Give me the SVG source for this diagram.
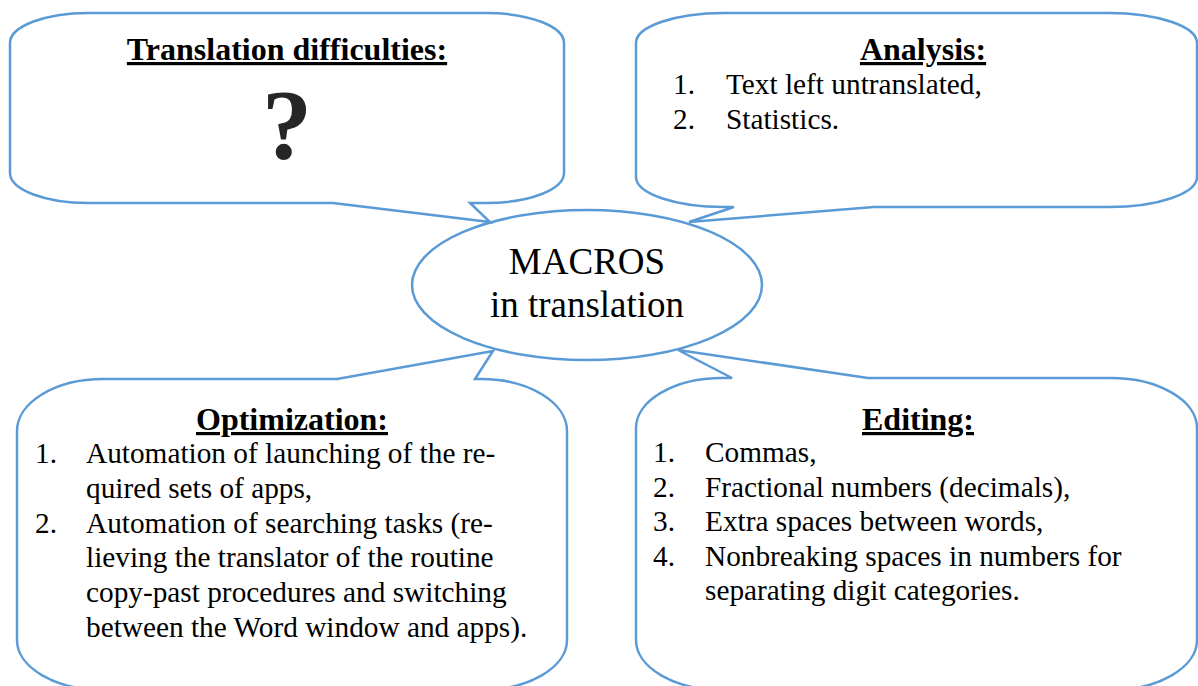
<svg xmlns="http://www.w3.org/2000/svg" width="1198" height="686" viewBox="0 0 1198 686">
<style>
.shape{fill:#fff;stroke:#5B9BD5;stroke-width:2.5;stroke-linejoin:miter}
text{font-family:"Liberation Serif","Times New Roman",serif;fill:#000}
.title{font-size:32px;font-weight:bold;text-anchor:middle;text-decoration:underline}
.item{font-size:29.3px}
.center{font-size:37px;text-anchor:middle}
</style>
<rect width="1198" height="686" fill="#fff"/>
<g id="connectors"/>
<g id="node-center">
<ellipse class="shape" cx="587" cy="285" rx="175" ry="75"/>
<text class="center" x="587" y="274">MACROS</text>
<text class="center" x="587" y="317">in translation</text>
</g>
<g id="node-difficulties">
<path class="shape" d="M88,13 H486 A78 30 0 0 1 564 43 V173 A78 30 0 0 1 486 203 H470 L490 222 L333 203 H88 A78 30 0 0 1 10 173 V43 A78 30 0 0 1 88 13 Z"/>
<text class="title" x="287" y="60">Translation difficulties:</text>
<text x="287" y="158" font-size="100" font-weight="bold" text-anchor="middle" fill="#262626" style="fill:#262626">?</text>
</g>
<g id="node-analysis">
<path class="shape" d="M724,13 H1109 A88 30 0 0 1 1197 43 V177 A88 30 0 0 1 1109 207 H874 L689 222 L734 207 H724 A88 30 0 0 1 636 177 V43 A88 30 0 0 1 724 13 Z"/>
<text class="title" x="923" y="60">Analysis:</text>
<text class="item" x="673" y="94">1.</text>
<text class="item" x="726" y="94">Text left untranslated,</text>
<text class="item" x="673" y="129">2.</text>
<text class="item" x="726" y="129">Statistics.</text>
</g>
<g id="node-optimization">
<path class="shape" d="M17,431 A86 52 0 0 1 103 379 H337 L493 351 L475 379 H481 A86 52 0 0 1 567 431 V640 A86 50 0 0 1 481 690 H103 A86 50 0 0 1 17 640 Z"/>
<text class="title" x="292" y="430">Optimization:</text>
<text class="item" x="35" y="463">1.</text>
<text class="item" x="86" y="463">Automation of launching of the re-</text>
<text class="item" x="86" y="498">quired sets of apps,</text>
<text class="item" x="35" y="533">2.</text>
<text class="item" x="86" y="533">Automation of searching tasks (re-</text>
<text class="item" x="86" y="567">lieving the translator of the routine</text>
<text class="item" x="86" y="602">copy-past procedures and switching</text>
<text class="item" x="86" y="637">between the Word window and apps).</text>
</g>
<g id="node-editing">
<path class="shape" d="M636,428 A86 50 0 0 1 722 378 H732 L678 350 L868 378 H1111 A86 50 0 0 1 1197 428 V640 A86 50 0 0 1 1111 690 H722 A86 50 0 0 1 636 640 Z"/>
<text class="title" x="918" y="430">Editing:</text>
<text class="item" x="653" y="462">1.</text>
<text class="item" x="705" y="462">Commas,</text>
<text class="item" x="653" y="497">2.</text>
<text class="item" x="705" y="497">Fractional numbers (decimals),</text>
<text class="item" x="653" y="531">3.</text>
<text class="item" x="705" y="531">Extra spaces between words,</text>
<text class="item" x="653" y="566">4.</text>
<text class="item" x="705" y="566">Nonbreaking spaces in numbers for</text>
<text class="item" x="705" y="600">separating digit categories.</text>
</g>
</svg>
